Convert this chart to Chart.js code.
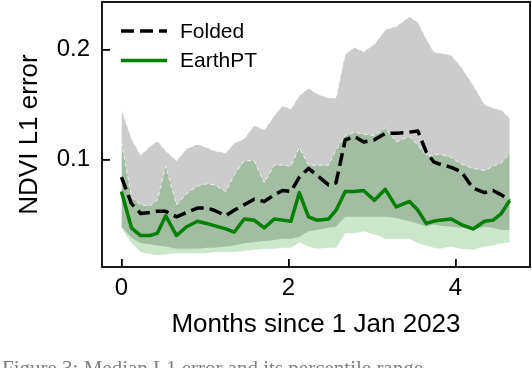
<!DOCTYPE html>
<html>
<head>
<meta charset="utf-8">
<script src="https://cdn.jsdelivr.net/npm/chart.js@4.4.1/dist/chart.umd.min.js"></script>
<style>
  html, body { margin: 0; padding: 0; background: #fff; }
  #wrap { position: relative; width: 532px; height: 368px; overflow: hidden; }
  #chart { position: absolute; left: 0; top: 0; }
  #caption { position: absolute; left: 2px; top: 356px; font: 21px 'Liberation Serif', serif; color: #808080; white-space: nowrap; }
</style>
</head>
<body>
<div id="wrap">
  <canvas id="chart" width="532" height="368"></canvas>
  <div id="caption">Figure 3: Median L1 error and its percentile range</div>
</div>
<script>
// months since 1 Jan 2023
const months = [0, 0.12, 0.23, 0.34, 0.43, 0.53, 0.66, 0.78, 0.91, 1.02, 1.11, 1.25, 1.35, 1.47,
    1.59, 1.71, 1.83, 1.93, 2.03, 2.13, 2.24, 2.34, 2.48, 2.57, 2.68, 2.79, 2.90, 3.03, 3.16, 3.29,
    3.45, 3.55, 3.65, 3.74, 3.81, 3.95, 4.07, 4.21, 4.35, 4.45, 4.55, 4.65]

const foldedMedian = [0.084, 0.060, 0.051, 0.052, 0.053, 0.053, 0.048, 0.052, 0.056, 0.056, 0.054, 0.049,
    0.054, 0.059, 0.064, 0.062, 0.068, 0.072, 0.071, 0.084, 0.092, 0.086, 0.077, 0.079, 0.118, 0.121,
    0.116, 0.118, 0.124, 0.124, 0.125, 0.126, 0.107, 0.098, 0.096, 0.093, 0.089, 0.074, 0.070, 0.072,
    0.068, 0.063]
const foldedHigh = [0.146, 0.119, 0.104, 0.112, 0.117, 0.108, 0.099, 0.110, 0.114, 0.111, 0.108, 0.106,
    0.115, 0.119, 0.131, 0.127, 0.140, 0.149, 0.146, 0.158, 0.165, 0.160, 0.156, 0.156, 0.196, 0.202,
    0.198, 0.205, 0.218, 0.221, 0.230, 0.225, 0.210, 0.198, 0.197, 0.195, 0.184, 0.168, 0.150, 0.147,
    0.145, 0.138]
const foldedLow = [0.039, 0.029, 0.024, 0.023, 0.022, 0.021, 0.019, 0.019, 0.019, 0.020, 0.020, 0.021,
    0.022, 0.024, 0.025, 0.026, 0.027, 0.028, 0.028, 0.030, 0.035, 0.036, 0.038, 0.039, 0.048, 0.048,
    0.048, 0.048, 0.048, 0.047, 0.044, 0.042, 0.039, 0.041, 0.040, 0.039, 0.038, 0.036, 0.039, 0.038,
    0.036, 0.036]

const earthMedian = [0.071, 0.038, 0.031, 0.031, 0.033, 0.049, 0.031, 0.039, 0.044, 0.042, 0.040, 0.037,
    0.034, 0.046, 0.045, 0.038, 0.046, 0.045, 0.044, 0.070, 0.048, 0.045, 0.046, 0.054, 0.071, 0.071,
    0.072, 0.063, 0.073, 0.057, 0.062, 0.054, 0.042, 0.044, 0.045, 0.046, 0.041, 0.037, 0.044, 0.045,
    0.051, 0.063]
const earthHigh = [0.116, 0.066, 0.059, 0.058, 0.063, 0.094, 0.059, 0.069, 0.076, 0.078, 0.077, 0.071,
    0.086, 0.099, 0.099, 0.079, 0.095, 0.095, 0.094, 0.111, 0.095, 0.095, 0.095, 0.109, 0.122, 0.125,
    0.123, 0.122, 0.129, 0.116, 0.121, 0.113, 0.104, 0.104, 0.105, 0.102, 0.096, 0.092, 0.090, 0.094,
    0.097, 0.106]
const earthLow = [0.038, 0.024, 0.016, 0.014, 0.013, 0.014, 0.015, 0.015, 0.015, 0.015, 0.016, 0.016,
    0.016, 0.017, 0.018, 0.019, 0.019, 0.020, 0.020, 0.025, 0.021, 0.019, 0.020, 0.020, 0.033, 0.033,
    0.035, 0.032, 0.028, 0.028, 0.028, 0.024, 0.022, 0.020, 0.019, 0.021, 0.019, 0.018, 0.021, 0.022,
    0.024, 0.025]

const xTicks = [0, 2, 4]
const yTicks = [0.1, 0.2]

Chart.defaults.font.family = "'Liberation Sans', Arial, sans-serif"
Chart.defaults.color = '#000'

const toPoints = ys => months.map((m, i) => ({x: m, y: ys[i]}))

// band edges look washed out in the reference
const band = (data, fill, colour, order) => ({
    data: toPoints(data),
    fill: fill,
    backgroundColor: colour,
    borderColor: 'rgba(255,255,255,0.75)',
    borderWidth: 1,
    borderDash: [4, 3],
    pointRadius: 0,
    order: order
})

// frame round the axes + the legend inside the top left corner
const frame = {
    id: 'frame',
    afterDraw(chart) {
        const {ctx, chartArea: a} = chart
        ctx.save()
        ctx.strokeStyle = '#000'
        ctx.lineWidth = 1.8
        ctx.strokeRect(a.left, a.top, a.right - a.left, a.bottom - a.top)

        ctx.font = "21px 'Liberation Sans', Arial, sans-serif"
        ctx.textBaseline = 'middle'
        ctx.fillStyle = '#000'
        const items = chart.data.datasets.filter(d => d.label)
        items.forEach((d, i) => {
            const y = a.top + 29 + i * 29.5
            const x = a.left + 19
            ctx.strokeStyle = d.borderColor
            ctx.lineWidth = d.borderWidth
            ctx.setLineDash(d.borderDash || [])
            ctx.beginPath()
            ctx.moveTo(x, y)
            ctx.lineTo(x + 46, y)
            ctx.stroke()
            ctx.fillText(d.label, x + 59, y + 1)
        })
        ctx.restore()
    }
}

const tickGrid = {drawOnChartArea: false, tickLength: -8, lineWidth: 1.8, color: '#000'}

// fixed axis sizes, no extra room for labels hanging over the ends
const fitX = s => { s.height = 73; s.paddingLeft = 0; s.paddingRight = 0 }
const fitY = s => { s.width = 102; s.paddingTop = 0; s.paddingBottom = 0 }

new Chart(document.getElementById('chart'), {
    type: 'line',
    data: {
        datasets: [
            band(foldedHigh, '+1', 'rgba(128,128,128,0.4)', 4),
            band(foldedLow, false, 'rgba(128,128,128,0.4)', 4),
            band(earthHigh, '+1', 'rgba(0,128,0,0.2)', 3),
            band(earthLow, false, 'rgba(0,128,0,0.2)', 3),
            {
                label: 'Folded',
                data: toPoints(foldedMedian),
                borderColor: '#000',
                borderWidth: 3.5,
                borderDash: [13, 6],
                borderJoinStyle: 'round',
                fill: false,
                pointRadius: 0,
                order: 1
            },
            {
                label: 'EarthPT',
                data: toPoints(earthMedian),
                borderColor: 'green',
                borderWidth: 3.5,
                borderJoinStyle: 'round',
                fill: false,
                pointRadius: 0,
                order: 0
            }
        ]
    },
    options: {
        responsive: false,
        animation: false,
        layout: {padding: {left: 0, right: 2, top: 2, bottom: 28}},
        plugins: {
            legend: {display: false},
            tooltip: {enabled: false}
        },
        scales: {
            x: {
                type: 'linear',
                min: -0.233,
                max: 4.893,
                z: 1,
                afterBuildTicks: s => { s.ticks = xTicks.map(v => ({value: v})) },
                afterFit: fitX,
                grid: tickGrid,
                border: {display: false},
                ticks: {font: {size: 24}, padding: 15, maxRotation: 0, callback: v => String(v)},
                title: {display: true, text: 'Months since 1 Jan 2023', font: {size: 26}, padding: 0}
            },
            y: {
                min: 0.0024,
                max: 0.2433,
                z: 1,
                afterBuildTicks: s => { s.ticks = yTicks.map(v => ({value: v})) },
                afterFit: fitY,
                grid: tickGrid,
                border: {display: false},
                ticks: {font: {size: 24}, padding: 20, callback: v => v.toFixed(1)},
                title: {display: true, text: 'NDVI L1 error', font: {size: 26}, padding: {top: 14, bottom: 0}}
            }
        }
    },
    plugins: [frame]
})
</script>
</body>
</html>
